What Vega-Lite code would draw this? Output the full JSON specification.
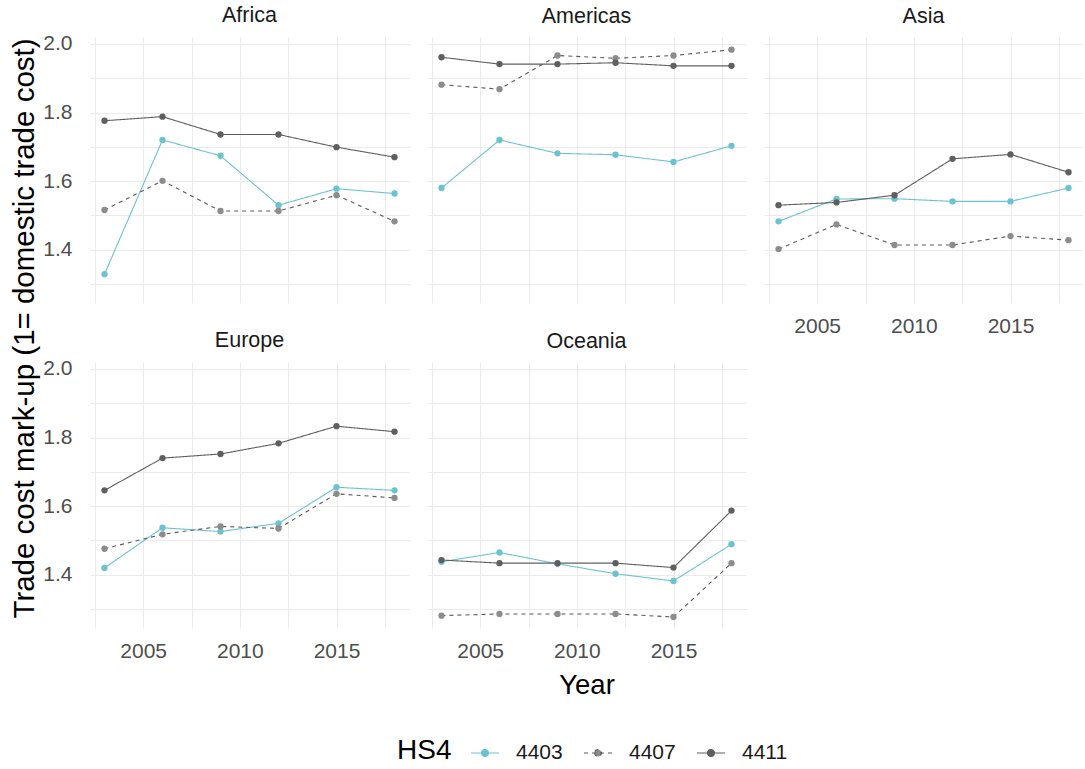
{
  "$schema": "https://vega.github.io/schema/vega-lite/v6.json",
  "padding": {"left": 9, "top": 5, "right": 0, "bottom": 0},
  "bounds": "flush",
  "columns": 3,
  "spacing": {"row": 59, "column": 18},
  "datasets": {"d": [
    {"region":"Africa","HS4":"4403","year":2003,"v":1.329},
    {"region":"Africa","HS4":"4403","year":2006,"v":1.720},
    {"region":"Africa","HS4":"4403","year":2009,"v":1.674},
    {"region":"Africa","HS4":"4403","year":2012,"v":1.530},
    {"region":"Africa","HS4":"4403","year":2015,"v":1.578},
    {"region":"Africa","HS4":"4403","year":2018,"v":1.564},
    {"region":"Africa","HS4":"4407","year":2003,"v":1.516},
    {"region":"Africa","HS4":"4407","year":2006,"v":1.601},
    {"region":"Africa","HS4":"4407","year":2009,"v":1.513},
    {"region":"Africa","HS4":"4407","year":2012,"v":1.513},
    {"region":"Africa","HS4":"4407","year":2015,"v":1.559},
    {"region":"Africa","HS4":"4407","year":2018,"v":1.483},
    {"region":"Africa","HS4":"4411","year":2003,"v":1.776},
    {"region":"Africa","HS4":"4411","year":2006,"v":1.788},
    {"region":"Africa","HS4":"4411","year":2009,"v":1.736},
    {"region":"Africa","HS4":"4411","year":2012,"v":1.736},
    {"region":"Africa","HS4":"4411","year":2015,"v":1.699},
    {"region":"Africa","HS4":"4411","year":2018,"v":1.670},
    {"region":"Americas","HS4":"4403","year":2003,"v":1.580},
    {"region":"Americas","HS4":"4403","year":2006,"v":1.720},
    {"region":"Americas","HS4":"4403","year":2009,"v":1.681},
    {"region":"Americas","HS4":"4403","year":2012,"v":1.677},
    {"region":"Americas","HS4":"4403","year":2015,"v":1.656},
    {"region":"Americas","HS4":"4403","year":2018,"v":1.703},
    {"region":"Americas","HS4":"4407","year":2003,"v":1.881},
    {"region":"Americas","HS4":"4407","year":2006,"v":1.868},
    {"region":"Americas","HS4":"4407","year":2009,"v":1.966},
    {"region":"Americas","HS4":"4407","year":2012,"v":1.958},
    {"region":"Americas","HS4":"4407","year":2015,"v":1.966},
    {"region":"Americas","HS4":"4407","year":2018,"v":1.983},
    {"region":"Americas","HS4":"4411","year":2003,"v":1.961},
    {"region":"Americas","HS4":"4411","year":2006,"v":1.941},
    {"region":"Americas","HS4":"4411","year":2009,"v":1.941},
    {"region":"Americas","HS4":"4411","year":2012,"v":1.945},
    {"region":"Americas","HS4":"4411","year":2015,"v":1.936},
    {"region":"Americas","HS4":"4411","year":2018,"v":1.936},
    {"region":"Asia","HS4":"4403","year":2003,"v":1.483},
    {"region":"Asia","HS4":"4403","year":2006,"v":1.548},
    {"region":"Asia","HS4":"4403","year":2009,"v":1.549},
    {"region":"Asia","HS4":"4403","year":2012,"v":1.541},
    {"region":"Asia","HS4":"4403","year":2015,"v":1.541},
    {"region":"Asia","HS4":"4403","year":2018,"v":1.580},
    {"region":"Asia","HS4":"4407","year":2003,"v":1.402},
    {"region":"Asia","HS4":"4407","year":2006,"v":1.474},
    {"region":"Asia","HS4":"4407","year":2009,"v":1.414},
    {"region":"Asia","HS4":"4407","year":2012,"v":1.414},
    {"region":"Asia","HS4":"4407","year":2015,"v":1.440},
    {"region":"Asia","HS4":"4407","year":2018,"v":1.428},
    {"region":"Asia","HS4":"4411","year":2003,"v":1.530},
    {"region":"Asia","HS4":"4411","year":2006,"v":1.538},
    {"region":"Asia","HS4":"4411","year":2009,"v":1.559},
    {"region":"Asia","HS4":"4411","year":2012,"v":1.665},
    {"region":"Asia","HS4":"4411","year":2015,"v":1.678},
    {"region":"Asia","HS4":"4411","year":2018,"v":1.626},
    {"region":"Europe","HS4":"4403","year":2003,"v":1.420},
    {"region":"Europe","HS4":"4403","year":2006,"v":1.537},
    {"region":"Europe","HS4":"4403","year":2009,"v":1.526},
    {"region":"Europe","HS4":"4403","year":2012,"v":1.550},
    {"region":"Europe","HS4":"4403","year":2015,"v":1.655},
    {"region":"Europe","HS4":"4403","year":2018,"v":1.646},
    {"region":"Europe","HS4":"4407","year":2003,"v":1.476},
    {"region":"Europe","HS4":"4407","year":2006,"v":1.518},
    {"region":"Europe","HS4":"4407","year":2009,"v":1.541},
    {"region":"Europe","HS4":"4407","year":2012,"v":1.535},
    {"region":"Europe","HS4":"4407","year":2015,"v":1.636},
    {"region":"Europe","HS4":"4407","year":2018,"v":1.624},
    {"region":"Europe","HS4":"4411","year":2003,"v":1.646},
    {"region":"Europe","HS4":"4411","year":2006,"v":1.740},
    {"region":"Europe","HS4":"4411","year":2009,"v":1.752},
    {"region":"Europe","HS4":"4411","year":2012,"v":1.783},
    {"region":"Europe","HS4":"4411","year":2015,"v":1.833},
    {"region":"Europe","HS4":"4411","year":2018,"v":1.817},
    {"region":"Oceania","HS4":"4403","year":2003,"v":1.438},
    {"region":"Oceania","HS4":"4403","year":2006,"v":1.465},
    {"region":"Oceania","HS4":"4403","year":2009,"v":1.432},
    {"region":"Oceania","HS4":"4403","year":2012,"v":1.403},
    {"region":"Oceania","HS4":"4403","year":2015,"v":1.382},
    {"region":"Oceania","HS4":"4403","year":2018,"v":1.489},
    {"region":"Oceania","HS4":"4407","year":2003,"v":1.281},
    {"region":"Oceania","HS4":"4407","year":2006,"v":1.286},
    {"region":"Oceania","HS4":"4407","year":2009,"v":1.286},
    {"region":"Oceania","HS4":"4407","year":2012,"v":1.286},
    {"region":"Oceania","HS4":"4407","year":2015,"v":1.277},
    {"region":"Oceania","HS4":"4407","year":2018,"v":1.434},
    {"region":"Oceania","HS4":"4411","year":2003,"v":1.443},
    {"region":"Oceania","HS4":"4411","year":2006,"v":1.434},
    {"region":"Oceania","HS4":"4411","year":2009,"v":1.434},
    {"region":"Oceania","HS4":"4411","year":2012,"v":1.434},
    {"region":"Oceania","HS4":"4411","year":2015,"v":1.421},
    {"region":"Oceania","HS4":"4411","year":2018,"v":1.587}
  ]},
  "data": {"name": "d"},
  "concat": [
    {"title": {"text": "Africa", "offset": 6}, "width": 319, "height": 266,
     "transform": [{"filter": "datum.region == 'Africa'"}],
     "encoding": {
       "x": {"field": "year", "type": "quantitative", "scale": {"domain": [2002.25, 2018.75], "nice": false, "zero": false},
             "axis": {"title": null, "labels": false, "values": [2002.5, 2005, 2007.5, 2010, 2012.5, 2015, 2017.5]}},
       "y": {"field": "v", "type": "quantitative", "scale": {"domain": [1.245, 2.02], "nice": false, "zero": false},
             "axis": {"title": "Trade cost mark-up (1= domestic trade cost)", "titleY": 291, "titleFontSize": 29.5,
                      "values": [1.3, 1.4, 1.5, 1.6, 1.7, 1.8, 1.9, 2.0],
                      "labelExpr": "round(datum.value * 10) % 2 == 0 ? format(datum.value, '.1f') : ''"}},
       "color": {"field": "HS4", "type": "nominal", "title": "HS4", "scale": {"domain": ["4403","4407","4411"], "range": ["#6cc3cf", "#8c8c8c", "#5f5f5f"]}}
     },
     "layer": [
       {"mark": {"type": "line", "strokeWidth": 1.1},
        "encoding": {
          "stroke": {"field": "HS4", "type": "nominal", "title": "HS4", "scale": {"domain": ["4403","4407","4411"], "range": ["#6cc3cf", "#5a5a5a", "#5f5f5f"]}},
          "strokeDash": {"field": "HS4", "type": "nominal", "title": "HS4", "scale": {"domain": ["4403","4407","4411"], "range": [[1,0],[4,4],[1,0]]}}}},
       {"mark": {"type": "point", "filled": true, "size": 40, "opacity": 1}}
     ]},
    {"title": {"text": "Americas"}, "width": 319, "height": 266,
     "transform": [{"filter": "datum.region == 'Americas'"}],
     "encoding": {
       "x": {"field": "year", "type": "quantitative", "scale": {"domain": [2002.25, 2018.75], "nice": false, "zero": false},
             "axis": {"title": null, "labels": false, "values": [2002.5, 2005, 2007.5, 2010, 2012.5, 2015, 2017.5]}},
       "y": {"field": "v", "type": "quantitative", "scale": {"domain": [1.245, 2.02], "nice": false, "zero": false},
             "axis": {"title": null, "labels": false, "values": [1.3, 1.4, 1.5, 1.6, 1.7, 1.8, 1.9, 2.0]}},
       "color": {"field": "HS4", "type": "nominal", "title": "HS4", "scale": {"domain": ["4403","4407","4411"], "range": ["#6cc3cf", "#8c8c8c", "#5f5f5f"]}}
     },
     "layer": [
       {"mark": {"type": "line", "strokeWidth": 1.1},
        "encoding": {
          "stroke": {"field": "HS4", "type": "nominal", "title": "HS4", "scale": {"domain": ["4403","4407","4411"], "range": ["#6cc3cf", "#5a5a5a", "#5f5f5f"]}},
          "strokeDash": {"field": "HS4", "type": "nominal", "title": "HS4", "scale": {"domain": ["4403","4407","4411"], "range": [[1,0],[4,4],[1,0]]}}}},
       {"mark": {"type": "point", "filled": true, "size": 40, "opacity": 1}}
     ]},
    {"title": {"text": "Asia"}, "width": 319, "height": 266,
     "transform": [{"filter": "datum.region == 'Asia'"}],
     "encoding": {
       "x": {"field": "year", "type": "quantitative", "scale": {"domain": [2002.25, 2018.75], "nice": false, "zero": false},
             "axis": {"title": null, "values": [2002.5, 2005, 2007.5, 2010, 2012.5, 2015, 2017.5],
                      "labelExpr": "datum.value % 5 == 0 ? format(datum.value, 'd') : ''"}},
       "y": {"field": "v", "type": "quantitative", "scale": {"domain": [1.245, 2.02], "nice": false, "zero": false},
             "axis": {"title": null, "labels": false, "values": [1.3, 1.4, 1.5, 1.6, 1.7, 1.8, 1.9, 2.0]}},
       "color": {"field": "HS4", "type": "nominal", "title": "HS4", "scale": {"domain": ["4403","4407","4411"], "range": ["#6cc3cf", "#8c8c8c", "#5f5f5f"]}}
     },
     "layer": [
       {"mark": {"type": "line", "strokeWidth": 1.1},
        "encoding": {
          "stroke": {"field": "HS4", "type": "nominal", "title": "HS4", "scale": {"domain": ["4403","4407","4411"], "range": ["#6cc3cf", "#5a5a5a", "#5f5f5f"]}},
          "strokeDash": {"field": "HS4", "type": "nominal", "title": "HS4", "scale": {"domain": ["4403","4407","4411"], "range": [[1,0],[4,4],[1,0]]}}}},
       {"mark": {"type": "point", "filled": true, "size": 40, "opacity": 1}}
     ]},
    {"title": {"text": "Europe", "offset": 6}, "width": 319, "height": 266,
     "transform": [{"filter": "datum.region == 'Europe'"}],
     "encoding": {
       "x": {"field": "year", "type": "quantitative", "scale": {"domain": [2002.25, 2018.75], "nice": false, "zero": false},
             "axis": {"title": null, "values": [2002.5, 2005, 2007.5, 2010, 2012.5, 2015, 2017.5],
                      "labelExpr": "datum.value % 5 == 0 ? format(datum.value, 'd') : ''"}},
       "y": {"field": "v", "type": "quantitative", "scale": {"domain": [1.245, 2.02], "nice": false, "zero": false},
             "axis": {"title": null, "values": [1.3, 1.4, 1.5, 1.6, 1.7, 1.8, 1.9, 2.0],
                      "labelExpr": "round(datum.value * 10) % 2 == 0 ? format(datum.value, '.1f') : ''"}},
       "color": {"field": "HS4", "type": "nominal", "title": "HS4", "scale": {"domain": ["4403","4407","4411"], "range": ["#6cc3cf", "#8c8c8c", "#5f5f5f"]}}
     },
     "layer": [
       {"mark": {"type": "line", "strokeWidth": 1.1},
        "encoding": {
          "stroke": {"field": "HS4", "type": "nominal", "title": "HS4", "scale": {"domain": ["4403","4407","4411"], "range": ["#6cc3cf", "#5a5a5a", "#5f5f5f"]}},
          "strokeDash": {"field": "HS4", "type": "nominal", "title": "HS4", "scale": {"domain": ["4403","4407","4411"], "range": [[1,0],[4,4],[1,0]]}}}},
       {"mark": {"type": "point", "filled": true, "size": 40, "opacity": 1}}
     ]},
    {"title": {"text": "Oceania"}, "width": 319, "height": 266,
     "transform": [{"filter": "datum.region == 'Oceania'"}],
     "encoding": {
       "x": {"field": "year", "type": "quantitative", "scale": {"domain": [2002.25, 2018.75], "nice": false, "zero": false},
             "axis": {"title": "Year", "values": [2002.5, 2005, 2007.5, 2010, 2012.5, 2015, 2017.5],
                      "labelExpr": "datum.value % 5 == 0 ? format(datum.value, 'd') : ''"}},
       "y": {"field": "v", "type": "quantitative", "scale": {"domain": [1.245, 2.02], "nice": false, "zero": false},
             "axis": {"title": null, "labels": false, "values": [1.3, 1.4, 1.5, 1.6, 1.7, 1.8, 1.9, 2.0]}},
       "color": {"field": "HS4", "type": "nominal", "title": "HS4", "scale": {"domain": ["4403","4407","4411"], "range": ["#6cc3cf", "#8c8c8c", "#5f5f5f"]}}
     },
     "layer": [
       {"mark": {"type": "line", "strokeWidth": 1.1},
        "encoding": {
          "stroke": {"field": "HS4", "type": "nominal", "title": "HS4", "scale": {"domain": ["4403","4407","4411"], "range": ["#6cc3cf", "#5a5a5a", "#5f5f5f"]}},
          "strokeDash": {"field": "HS4", "type": "nominal", "title": "HS4", "scale": {"domain": ["4403","4407","4411"], "range": [[1,0],[4,4],[1,0]]}}}},
       {"mark": {"type": "point", "filled": true, "size": 40, "opacity": 1}}
     ]}
  ],
  "config": {
    "font": "Liberation Sans",
    "view": {"stroke": null},
    "title": {"fontSize": 21.5, "fontWeight": "normal", "color": "#1a1a1a", "frame": "group", "anchor": "middle", "offset": 10},
    "axis": {
      "domain": false, "ticks": false,
      "grid": true, "gridColor": "#ebebeb", "gridWidth": 1,
      "labelFontSize": 21, "labelColor": "#4d4d4d",
      "titleFontSize": 27.5, "titleColor": "#000000", "titleFontWeight": "normal"
    },
    "axisX": {"labelPadding": 12, "titlePadding": 10},
    "axisY": {"labelPadding": 18, "titlePadding": 3},
    "legend": {
      "orient": "none", "legendX": 307, "legendY": 701,
      "direction": "horizontal", "titleOrient": "left",
      "titleFontSize": 28, "titleFontWeight": "normal", "titleColor": "#000000", "titlePadding": 18,
      "labelFontSize": 21, "labelColor": "#1a1a1a",
      "symbolType": "M-1,0L1,0M-0.25,0A0.25,0.25 0 1,0 0.25,0A0.25,0.25 0 1,0 -0.25,0",
      "symbolSize": 784, "symbolStrokeWidth": 1.1, "columnPadding": 18, "labelOffset": 16
    }
  }
}
